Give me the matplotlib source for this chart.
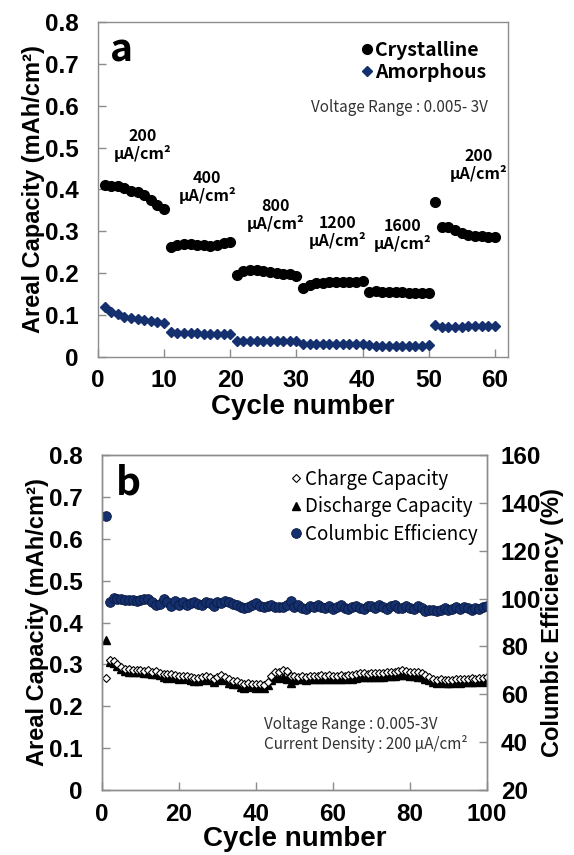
import matplotlib
matplotlib.use('Agg')
import matplotlib.pyplot as plt
import numpy as np

# ---- data: panel a (rate capability) ----
cycles_a = np.arange(1, 61)
crystalline = [
    0.411, 0.408, 0.408, 0.403, 0.397, 0.395, 0.387, 0.375, 0.363, 0.354,
    0.263, 0.267, 0.269, 0.269, 0.267, 0.267, 0.265, 0.267, 0.273, 0.275,
    0.196, 0.206, 0.208, 0.208, 0.206, 0.204, 0.200, 0.198, 0.197, 0.194,
    0.164, 0.172, 0.176, 0.177, 0.178, 0.179, 0.180, 0.180, 0.180, 0.181,
    0.156, 0.158, 0.156, 0.154, 0.154, 0.154, 0.153, 0.153, 0.153, 0.152,
    0.371, 0.311, 0.311, 0.303, 0.297, 0.291, 0.289, 0.289, 0.287, 0.287,
]
amorphous = [
    0.120, 0.108, 0.103, 0.096, 0.092, 0.090, 0.088, 0.087, 0.083, 0.080,
    0.060, 0.058, 0.058, 0.057, 0.057, 0.056, 0.056, 0.055, 0.055, 0.054,
    0.039, 0.037, 0.037, 0.037, 0.037, 0.037, 0.038, 0.038, 0.038, 0.038,
    0.032, 0.031, 0.031, 0.031, 0.032, 0.032, 0.032, 0.032, 0.032, 0.032,
    0.028, 0.027, 0.027, 0.027, 0.027, 0.027, 0.027, 0.027, 0.027, 0.028,
    0.076, 0.071, 0.071, 0.072, 0.072, 0.073, 0.074, 0.074, 0.074, 0.075,
]
rate_labels = ['200\nμA/cm²', '400\nμA/cm²', '800\nμA/cm²',
               '1200\nμA/cm²', '1600\nμA/cm²', '200\nμA/cm²']
rate_label_xy = [(6.8, 0.506), (16.5, 0.406), (26.8, 0.339),
                 (36.3, 0.298), (46.1, 0.291), (57.5, 0.458)]

# ---- data: panel b (cycling at 200 uA/cm2) ----
cycles_b = np.arange(1, 101)
discharge = [
    0.358, 0.305, 0.303, 0.295, 0.288, 0.285, 0.283, 0.282, 0.282, 0.281,
    0.280, 0.279, 0.276, 0.278, 0.274, 0.270, 0.268, 0.270, 0.268, 0.266,
    0.267, 0.265, 0.262, 0.260, 0.260, 0.262, 0.266, 0.262, 0.258, 0.262,
    0.266, 0.262, 0.256, 0.252, 0.254, 0.247, 0.244, 0.248, 0.246, 0.244,
    0.245, 0.243, 0.250, 0.262, 0.270, 0.268, 0.270, 0.266, 0.255, 0.262,
    0.264, 0.265, 0.263, 0.265, 0.266, 0.264, 0.266, 0.265, 0.266, 0.264,
    0.265, 0.266, 0.265, 0.267, 0.266, 0.268, 0.270, 0.270, 0.269, 0.270,
    0.271, 0.270, 0.271, 0.272, 0.272, 0.273, 0.274, 0.275, 0.274, 0.273,
    0.273, 0.271, 0.270, 0.266, 0.262, 0.258, 0.256, 0.257, 0.256, 0.255,
    0.255, 0.257, 0.256, 0.258, 0.257, 0.259, 0.258, 0.260, 0.258, 0.260,
]
charge = [
    0.268, 0.310, 0.308, 0.300, 0.293, 0.290, 0.288, 0.287, 0.286, 0.286,
    0.285, 0.286, 0.283, 0.284, 0.280, 0.278, 0.276, 0.277, 0.275, 0.273,
    0.273, 0.272, 0.270, 0.268, 0.267, 0.270, 0.273, 0.269, 0.266, 0.270,
    0.274, 0.270, 0.264, 0.260, 0.261, 0.255, 0.252, 0.256, 0.254, 0.252,
    0.253, 0.251, 0.258, 0.272, 0.282, 0.281, 0.286, 0.284, 0.272, 0.272,
    0.271, 0.272, 0.271, 0.273, 0.273, 0.272, 0.274, 0.273, 0.274, 0.273,
    0.273, 0.274, 0.273, 0.275, 0.274, 0.277, 0.279, 0.279, 0.278, 0.279,
    0.280, 0.279, 0.280, 0.281, 0.282, 0.283, 0.284, 0.287, 0.285, 0.283,
    0.283, 0.281, 0.279, 0.274, 0.269, 0.265, 0.263, 0.264, 0.263, 0.263,
    0.263, 0.265, 0.264, 0.266, 0.265, 0.267, 0.266, 0.268, 0.267, 0.270,
]
efficiency = [
    134.5, 98.5, 100.2, 100.0, 99.8, 99.5, 99.3, 99.6, 99.2, 99.4,
    99.8, 100.0, 98.6, 97.5, 97.8, 100.0, 98.4, 97.0, 99.0, 97.5,
    98.5, 97.2, 98.0, 98.6, 97.6, 97.3, 98.5, 98.2, 97.0, 98.6,
    98.2, 99.0, 98.5, 97.8, 97.2, 96.5, 96.0, 96.4, 97.2, 98.0,
    97.0, 96.5, 96.8, 97.5, 96.3, 96.5, 96.4, 97.5, 98.8, 96.4,
    97.5, 96.0, 95.5, 96.8, 96.5, 97.5, 96.3, 96.0, 97.0, 95.5,
    96.5, 97.5, 96.2, 95.8, 96.6, 97.0, 96.0, 95.6, 96.8, 96.7,
    96.0, 97.2, 96.3, 95.8, 96.8, 97.3, 96.1, 95.9, 96.9, 96.0,
    95.7, 96.8, 96.0, 95.0, 95.1, 95.3, 95.0, 95.4, 96.0, 95.1,
    95.8, 96.6, 95.5, 96.3, 95.9, 95.4, 96.2, 95.8, 96.5, 97.0,
]

NAVY = '#14306e'
SPINE = '#8c8c8c'
AX_FONT = 'Liberation Sans'
TXT_FONT = ['Noto Sans CJK KR', 'DejaVu Sans']
TICK_SIZE = 17.5


def style_axis(ax):
    for s in ax.spines.values():
        s.set_color(SPINE)
        s.set_linewidth(1.0)
    ax.tick_params(direction='in', length=6, color=SPINE, width=1.0,
                   labelsize=TICK_SIZE)
    ax.tick_params(axis='x', pad=9)
    ax.tick_params(axis='y', pad=14)
    for lab in ax.get_xticklabels() + ax.get_yticklabels():
        lab.set_fontfamily(AX_FONT)
        lab.set_fontweight('bold')


fig = plt.figure(figsize=(5.74, 8.55), dpi=100)

# ---------- panel a ----------
ax1 = fig.add_axes([0.1707, 0.5825, 0.7143, 0.3918])
ax1.plot(cycles_a, crystalline, 'o', color='black', ms=7, label='Crystalline')
ax1.plot(cycles_a, amorphous, 'D', color=NAVY, ms=5.5, label='Amorphous')
ax1.set_xlim(0, 62)
ax1.set_ylim(0, 0.8)
ax1.set_xticks(np.arange(0, 61, 10))
ax1.set_yticks(np.arange(0, 0.81, 0.1))
ax1.set_yticklabels(['0'] + [f'{v:.1f}' for v in np.arange(0.1, 0.81, 0.1)])
style_axis(ax1)
ax1.set_xlabel('Cycle number', fontsize=20, fontweight='bold', family=AX_FONT,
               labelpad=1)
ax1.set_ylabel('Areal Capacity (mAh/cm²)', fontsize=17, fontweight='bold',
               family=AX_FONT, labelpad=0)
for txt, (x, y) in zip(rate_labels, rate_label_xy):
    ax1.text(x, y, txt, ha='center', va='center', fontsize=11.5,
             fontweight='bold', family=TXT_FONT, linespacing=1.05)
ax1.text(0.03, 0.975, 'a', transform=ax1.transAxes, fontsize=28,
         fontweight='bold', family=TXT_FONT, va='top')
ax1.text(0.95, 0.745, 'Voltage Range : 0.005- 3V', transform=ax1.transAxes,
         ha='right', va='center', fontsize=11, color='#333333', family=TXT_FONT)
leg1 = ax1.legend(loc='upper right', bbox_to_anchor=(0.99, 0.995), frameon=False,
                  handlelength=0.6, handletextpad=0.15, labelspacing=0.15,
                  prop={'family': TXT_FONT, 'weight': 'bold', 'size': 14})

# ---------- panel b ----------
ax2 = fig.add_axes([0.1777, 0.076, 0.6707, 0.3918])
ax3 = ax2.twinx()
ax2.plot(cycles_b, discharge, '^', color='black', ms=6, lw=0,
         label='Discharge Capacity')
ax2.plot(cycles_b, charge, 'D', mfc='white', mec='black', mew=0.8, ms=4.5, lw=0,
         label='Charge Capacity')
ax3.plot(cycles_b, efficiency, 'o', color=NAVY, mec='#0a1a40', mew=0.6, ms=7,
         lw=0, label='Columbic Efficiency')
ax2.set_xlim(0, 100)
ax2.set_ylim(0, 0.8)
ax3.set_ylim(20, 160)
ax2.set_xticks(np.arange(0, 101, 20))
ax2.set_yticks(np.arange(0, 0.81, 0.1))
ax2.set_yticklabels(['0'] + [f'{v:.1f}' for v in np.arange(0.1, 0.81, 0.1)])
ax3.set_yticks(np.arange(20, 161, 20))
style_axis(ax2)
style_axis(ax3)
ax3.tick_params(axis='y', pad=10)
ax2.set_xlabel('Cycle number', fontsize=20, fontweight='bold', family=AX_FONT,
               labelpad=0)
ax2.set_ylabel('Areal Capacity (mAh/cm²)', fontsize=17, fontweight='bold',
               family=AX_FONT, labelpad=0)
ax3.set_ylabel('Columbic Efficiency (%)', fontsize=17, fontweight='bold',
               family=AX_FONT, labelpad=0)
ax2.text(0.035, 0.975, 'b', transform=ax2.transAxes, fontsize=28,
         fontweight='bold', family=TXT_FONT, va='top')
ax2.text(0.42, 0.165, 'Voltage Range : 0.005-3V\nCurrent Density : 200 μA/cm²',
         transform=ax2.transAxes, ha='left', va='center', fontsize=11,
         color='#333333', family=TXT_FONT, linespacing=1.15)
h2, l2 = ax2.get_legend_handles_labels()
h3, l3 = ax3.get_legend_handles_labels()
order = [1, 0]
leg2 = ax3.legend([h2[i] for i in order] + h3, [l2[i] for i in order] + l3,
                  loc='upper right', bbox_to_anchor=(1.02, 1.01), frameon=False,
                  handlelength=0.6, handletextpad=0.2, labelspacing=0.35,
                  prop={'family': TXT_FONT, 'size': 13.5})

fig.savefig('out.png', dpi=100)
